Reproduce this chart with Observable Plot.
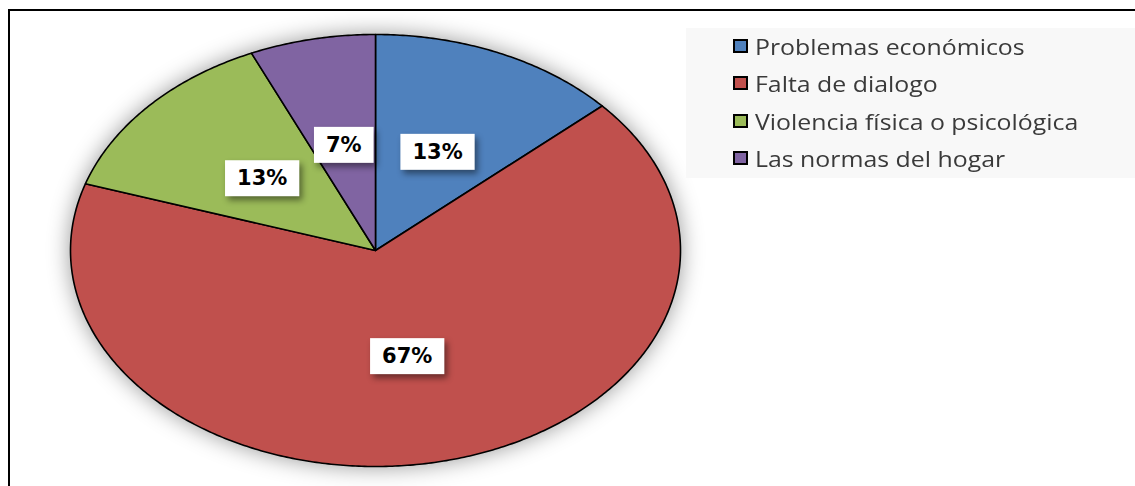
<!DOCTYPE html>
<html>
<head>
<meta charset="utf-8">
<script src="https://cdn.jsdelivr.net/npm/d3@7"></script>
<script src="https://cdn.jsdelivr.net/npm/@observablehq/plot@0.6"></script>
<style>
  html, body { margin: 0; padding: 0; background: #fff; }
  #wrap { position: relative; width: 1135px; height: 486px; overflow: hidden; background: #fff; }
  #frame { position: absolute; left: 8px; top: 9px; width: 1200px; height: 600px; border: 2px solid #000; box-sizing: border-box; }
  #chart { position: absolute; left: 0; top: 0; }
  #legend { position: absolute; left: 686px; top: 28px; width: 449px; height: 150px; background: #f8f8f8; }
  .item { position: absolute; left: 47px; height: 24px; display: flex; align-items: center; }
  .sw { width: 15px; height: 14px; border: 2px solid #000; box-sizing: border-box; margin-right: 7px; }
  .lab { font-family: "Open Sans", sans-serif; font-size: 22px; color: #3a3a3a; white-space: nowrap; transform: scaleX(1.13); transform-origin: left center; line-height: 24px; }
</style>
</head>
<body>
<div id="wrap">
  <div id="frame"></div>
  <div id="chart"></div>
  <div id="legend"></div>
</div>
<script>
const categories = ["Problemas económicos", "Falta de dialogo", "Violencia física o psicológica", "Las normas del hogar"];
const counts = [2, 10, 2, 1];
const labels = ["13%", "67%", "13%", "7%"];
const colors = ["#4F81BD", "#C0504D", "#9BBB59", "#8064A2"];

const arcs = d3.pie().sort(null).value(d => d)(counts);

// slice outlines as closed polygons (center + sampled arc)
const pts = [];
arcs.forEach((a, i) => {
  pts.push({cat: categories[i], x: 0, y: 0});
  const n = Math.max(4, Math.ceil((a.endAngle - a.startAngle) / 0.01));
  for (let k = 0; k <= n; k++) {
    const t = a.startAngle + (a.endAngle - a.startAngle) * k / n;
    pts.push({cat: categories[i], x: Math.sin(t), y: Math.cos(t)});
  }
});

const labelData = arcs.map((a, i) => {
  const m = (a.startAngle + a.endAngle) / 2;
  return {label: labels[i], x: 0.5 * Math.sin(m), y: 0.5 * Math.cos(m)};
});

const canvas = document.createElement("canvas");
const ctx = canvas.getContext("2d");
ctx.font = "bold 21px 'DejaVu Sans'";

const W = 1135, H = 486;
const plot = Plot.plot({
  width: W,
  height: H,
  marginLeft: 70,
  marginRight: W - 680,
  marginTop: 34,
  marginBottom: H - 466,
  x: {domain: [-1, 1], axis: null},
  y: {domain: [-1, 1], axis: null},
  color: {domain: categories, range: colors},
  style: {background: "transparent", overflow: "visible"},
  marks: [
    Plot.line(pts, {
      x: "x", y: "y", z: "cat", fill: "cat",
      stroke: "#000", strokeWidth: 1.6, strokeLinejoin: "round",
      curve: "linear-closed",
      render(index, scales, values, dimensions, context, next) {
        const g = next(index, scales, values, dimensions, context);
        g.style.filter = "drop-shadow(0px 0px 11px rgba(0,0,0,0.4))";
        return g;
      }
    }),
    Plot.text(labelData, {
      x: "x", y: "y", text: "label",
      fontFamily: "DejaVu Sans", fontWeight: "bold", fontSize: 21, fill: "#000",
      render(index, scales, values, dimensions, context, next) {
        const g = next(index, scales, values, dimensions, context);
        const ns = "http://www.w3.org/2000/svg";
        const texts = Array.from(g.querySelectorAll("text"));
        texts.forEach((t, j) => {
          const i = index[j];
          const cx = values.x[i], cy = values.y[i];
          const w = ctx.measureText(labelData[i].label).width + 24;
          const h = 36;
          const r = document.createElementNS(ns, "rect");
          r.setAttribute("x", cx - w / 2);
          r.setAttribute("y", cy - h / 2);
          r.setAttribute("width", w);
          r.setAttribute("height", h);
          r.setAttribute("fill", "#fff");
          r.style.filter = "drop-shadow(3px 4px 3px rgba(0,0,0,0.45))";
          t.parentNode.insertBefore(r, t);
        });
        return g;
      }
    })
  ]
});
document.getElementById("chart").appendChild(plot);

const legend = document.getElementById("legend");
const rowCenters = [46, 83, 121, 158];
categories.forEach((c, i) => {
  const it = document.createElement("div");
  it.className = "item";
  it.style.top = (rowCenters[i] - 28 - 12) + "px";
  const sw = document.createElement("div");
  sw.className = "sw";
  sw.style.background = colors[i];
  const lab = document.createElement("span");
  lab.className = "lab";
  lab.textContent = c;
  it.appendChild(sw);
  it.appendChild(lab);
  legend.appendChild(it);
});
</script>
</body>
</html>
